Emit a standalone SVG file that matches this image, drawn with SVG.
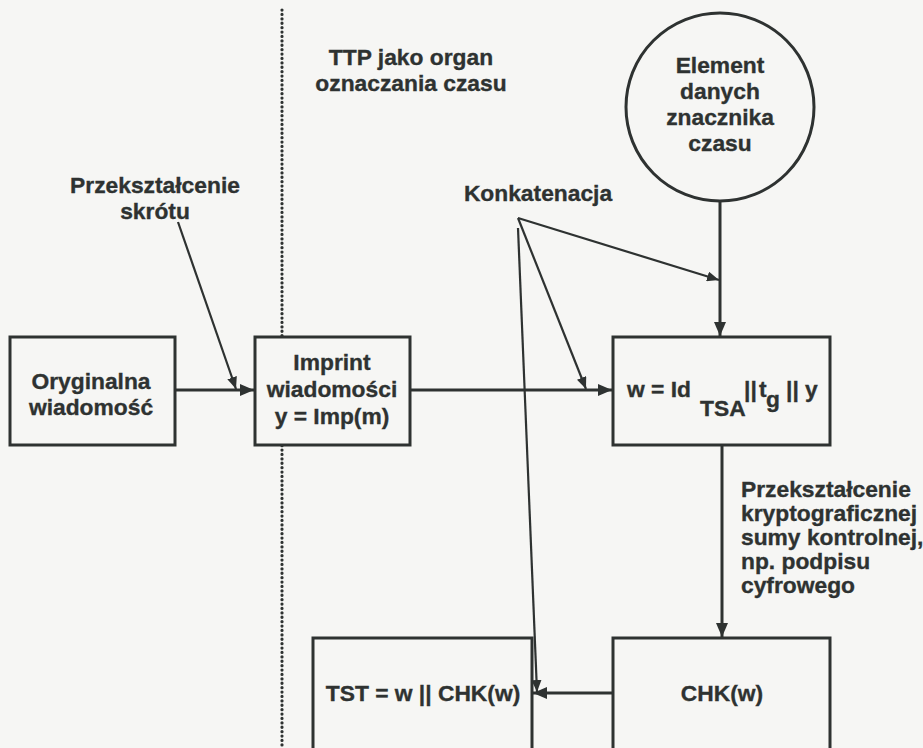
<svg xmlns="http://www.w3.org/2000/svg" width="923" height="748" viewBox="0 0 923 748">
  <defs>
    <style>
      .bg { fill: #f6f6f4; }
      .box { fill: #f6f6f4; stroke: #2e3231; stroke-width: 3; }
      .lbl { font-family: "Liberation Sans", Arial, sans-serif; font-weight: bold; font-size: 22.8px; fill: #2e3231; stroke: #2e3231; stroke-width: 0.35; }
      .mid { text-anchor: middle; }
      .flow { stroke: #2e3231; stroke-width: 3; fill: none; }
      .thin { stroke: #2e3231; stroke-width: 2.2; fill: none; }
      .sep { stroke: #2e3231; stroke-width: 3.2; stroke-dasharray: 0.1 4.3; stroke-linecap: round; fill: none; }
    </style>
    <marker id="head" viewBox="0 0 14 12" refX="14" refY="6" markerWidth="14" markerHeight="12" markerUnits="userSpaceOnUse" orient="auto">
      <path d="M0,0 L14,6 L0,12 Z" fill="#2e3231"/>
    </marker>
    <marker id="headS" viewBox="0 0 12 10" refX="12" refY="5" markerWidth="12" markerHeight="10" markerUnits="userSpaceOnUse" orient="auto">
      <path d="M0,0 L12,5 L0,10 Z" fill="#2e3231"/>
    </marker>
  </defs>

  <rect class="bg" x="0" y="0" width="923" height="748"/>

  <!-- boundary between sender side and the time-stamping authority -->
  <line class="sep" x1="282" y1="10" x2="282" y2="748"/>

  <!-- free labels -->
  <g id="label-ttp">
    <text class="lbl mid" x="411" y="65">TTP jako organ</text>
    <text class="lbl mid" x="411" y="91">oznaczania czasu</text>
  </g>
  <g id="label-hash">
    <text class="lbl mid" x="155" y="193">Przekształcenie</text>
    <text class="lbl mid" x="155" y="219">skrótu</text>
  </g>
  <g id="label-concat">
    <text class="lbl mid" x="538" y="201">Konkatenacja</text>
  </g>
  <g id="label-checksum">
    <text class="lbl" x="741" y="497">Przekształcenie</text>
    <text class="lbl" x="741" y="521">kryptograficznej</text>
    <text class="lbl" x="741" y="545">sumy kontrolnej,</text>
    <text class="lbl" x="741" y="569">np. podpisu</text>
    <text class="lbl" x="741" y="593">cyfrowego</text>
  </g>

  <!-- nodes -->
  <g id="node-original">
    <rect class="box" x="10" y="337" width="165" height="108"/>
    <text class="lbl mid" x="91" y="389">Oryginalna</text>
    <text class="lbl mid" x="91" y="415">wiadomość</text>
  </g>
  <g id="node-imprint">
    <rect class="box" x="255" y="337" width="155" height="108"/>
    <text class="lbl mid" x="332" y="370">Imprint</text>
    <text class="lbl mid" x="332" y="397">wiadomości</text>
    <text class="lbl mid" x="332" y="424">y = Imp(m)</text>
  </g>
  <g id="node-timedata">
    <circle class="box" cx="720" cy="107" r="94"/>
    <text class="lbl mid" x="720" y="73">Element</text>
    <text class="lbl mid" x="720" y="99">danych</text>
    <text class="lbl mid" x="720" y="125">znacznika</text>
    <text class="lbl mid" x="720" y="151">czasu</text>
  </g>
  <g id="node-concat">
    <rect class="box" x="613" y="337" width="217" height="108"/>
    <text class="lbl"><tspan x="627" y="397">w = Id</tspan><tspan x="700" y="416">TSA</tspan><tspan x="744" y="397">||</tspan><tspan x="759" y="397">t</tspan><tspan x="766" y="407">g</tspan><tspan x="786" y="397">|| y</tspan></text>
  </g>
  <g id="node-chk">
    <rect class="box" x="613" y="638" width="217" height="130"/>
    <text class="lbl mid" x="722" y="701">CHK(w)</text>
  </g>
  <g id="node-tst">
    <rect class="box" x="313" y="638" width="219" height="130"/>
    <text class="lbl mid" x="423" y="701">TST = w || CHK(w)</text>
  </g>

  <!-- connectors -->
  <g id="connectors">
    <line class="flow" x1="175" y1="390" x2="254" y2="390" marker-end="url(#head)"/>
    <line class="flow" x1="410" y1="390" x2="612" y2="390" marker-end="url(#head)"/>
    <line class="flow" x1="720" y1="201" x2="720" y2="336" marker-end="url(#head)"/>
    <line class="flow" x1="722" y1="445" x2="722" y2="637" marker-end="url(#head)"/>
    <line class="flow" x1="613" y1="693" x2="533" y2="693" marker-end="url(#head)"/>
    <line class="thin" x1="178" y1="222" x2="236" y2="389" marker-end="url(#headS)"/>
    <line class="thin" x1="518" y1="218" x2="719" y2="280" marker-end="url(#headS)"/>
    <line class="thin" x1="518" y1="218" x2="586" y2="389" marker-end="url(#headS)"/>
    <line class="thin" x1="518" y1="228" x2="537" y2="692" marker-end="url(#headS)"/>
  </g>
</svg>
